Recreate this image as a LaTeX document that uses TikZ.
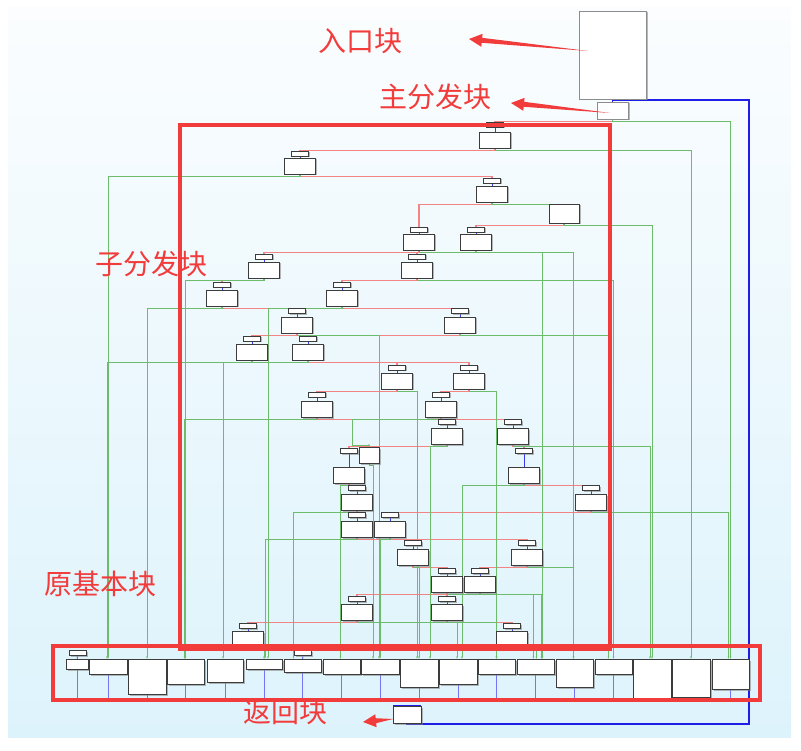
\documentclass[tikz,border=0pt]{standalone}
\usepackage{fontspec}
\newfontfamily\cjk{Noto Sans CJK SC}
\usepackage{tikz}
\usetikzlibrary{arrows.meta,calc,shadows,backgrounds}
\definecolor{annot}{HTML}{F23B3B}
\definecolor{falseedge}{HTML}{F28484}
\definecolor{trueedge}{HTML}{6CBC6C}
\definecolor{flow}{HTML}{3A3AF2}
\definecolor{loopblue}{HTML}{1E1EE6}
\definecolor{panetop}{HTML}{FBFDFE}
\definecolor{panebottom}{HTML}{DDF3FC}
\definecolor{boxline}{HTML}{3C3C3C}

\newcommand\taper[2]{%
  \coordinate (base) at ($(#2)!13pt!(#1)$);
  \fill[annot] (#1) -- ($(base)!2.5pt!90:(#2)$) -- ($(base)!6.5pt!90:(#2)$) -- (#2)
    -- ($(base)!6.5pt!-90:(#2)$) -- ($(base)!2.5pt!-90:(#2)$) -- cycle;}

\begin{document}
\begin{tikzpicture}[x=1pt,y=-1pt,
  blk/.style={draw=boxline,fill=white,line width=0.8pt,inner sep=0pt,outer sep=0pt,
    drop shadow={shadow xshift=1.5pt,shadow yshift=-1.5pt,fill=black!50,opacity=.55}},
  hdr/.style={blk,minimum width=17pt,minimum height=5pt},
  disp/.style={blk,minimum width=31pt,minimum height=16pt},
  redge/.style={draw=falseedge,line width=1.1pt},
  gedge/.style={draw=trueedge,line width=1pt,-{Latex[length=2.5pt,width=2pt]}},
  bedge/.style={draw=flow!70,line width=0.7pt},
  loopedge/.style={draw=loopblue,line width=1.1pt},
  markbox/.style={draw=annot,line width=4.5pt},
  marklabel/.style={text=annot,font=\cjk\fontsize{28}{30}\selectfont,inner sep=0pt}
]
\useasboundingbox (0,0) rectangle (801,751);

\node[blk,minimum width=67pt,minimum height=88pt,draw=black!45] (entry) at (612.5,55) {};
\node[blk,minimum width=31pt,minimum height=17pt,draw=black!45] (main) at (612.5,110.5) {};
\node[blk,minimum width=30pt,minimum height=19pt] (side) at (564,213.5) {};
\node[blk,minimum width=20pt,minimum height=16pt] (split) at (369,455) {};
\node[blk,minimum width=28pt,minimum height=17pt] (ret) at (407,714.5) {};

\foreach \n/\x/\hy/\y in {a1/495/124.5/132, a2/300/153.5/158, a3/492/180.5/186,
    a4/419/229.5/234, a5/476/229.5/234, a6/264/256.5/262, a7/417/256.5/262,
    a8/222/284.5/290, a9/342/284.5/290, a10/297/311/317, a11/460/311/317,
    a12/252/338.5/344, a13/308/338.5/344, a14/397/367.5/373, a15/469/367.5/373,
    a16/317/394.5/401, a17/441/394.5/401, a18/447/422/428, a19/513/422/428,
    a20/349/450.5/467, a21/524/450.5/467, a22/357/488/494, a23/591/488/494,
    a24/357/514.5/521, a25/390/514.5/521, a26/413/543/549, a27/527/543/549,
    a28/447/570.5/576, a29/480/570.5/576, a30/357/598.5/604, a31/447/598.5/604,
    a32/248/625.5/631, a33/512/625.5/631}
{
  \node[disp] (\n) at (\x,\y+8) {};
  \node[hdr] (h\n) at (\x,\hy) {};
}

\foreach \n/\lx/\rx/\by in {b1/66/88/669, b2/89/127/674, b3/128/166/694, b4/167/204/684,
    b5/207/243/682, b6/246/282/669, b7/284/321/672, b8/323/360/674, b9/361/399/674,
    b10/400/438/687, b11/439/477/684, b12/478/515/674, b13/517/554/674, b14/556/593/687,
    b15/595/632/674, b16/633/671/699, b17/672/710/697, b18/712/749/689}
  \node[blk,minimum width={\rx pt-\lx pt},minimum height={\by pt-659pt}] (\n)
    at ({(\lx+\rx)/2},{(659+\by)/2}) {};
\node[hdr] (hb1) at (77.5,653) {};
\node[hdr] (hb7) at (303,653) {};

\coordinate (rowfoot) at (0,701);
\coordinate (loopcorner) at (749,724);
\coordinate (splitin) at (352,445);

\begin{scope}[on background layer]
  \shade[top color=panetop,bottom color=panebottom] (8,8) rectangle (791,737);
  \foreach \s/\t in {main/a1, a1/a2, a2/a3, a3/a4, side/a5, a4/a6, a5/a7, a6/a8, a7/a9,
      a8/a10, a9/a11, a10/a12, a11/a13, a12/a14, a13/a15, a14/a16, a15/a17, a16/a18,
      a17/a19, a18/a20, a19/a21, a20/a22, a21/a23, a22/a24, a23/a25, a24/a26, a25/a27,
      a26/a28, a27/a29, a28/a30, a29/a31, a30/a32, a31/a33}
    \draw[redge] (\s.south) -- ++(0,2.5) -| (h\t.north);
  \foreach \s/\t/\d in {main/b18/0, a1/b17/0, a2/b2/0, side/b16/0, a4/b13/7, a5/b14/-1,
      a6/b4/0, a7/b15/0, a8/b3/0, a9/b6/4, a10/b9/-1, a11/b15/-5, a12/b2/-1, a13/b5/-2,
      a14/b10/-2, a15/b12/0, a16/b4/-1, a18/b10/11, a19/b16/-2, a20/b8/-1, split/b9/-7,
      a21/b11/4, a22/b7/-9, a23/b18/-2, a24/b6/1, a25/b9/0, a26/b10/0, a27/b14/-1,
      a28/b13/-2, a29/b13/6, a30/b11/-1, a31/b12/0, a32/b6/0, a33/b13/1}
    \draw[gedge] (\s.south) -- ++(0,2.5) -| ([xshift=\d pt]\t.north);
  \draw[gedge] (a3.south) -- ++(0,2.5) -| (side.north);
  \draw[gedge] (a17.south) -- ++(0,2) -| (splitin) -| (split.north);
  \foreach \n in {a1,a2,a3,a4,a5,a6,a7,a8,a9,a10,a11,a12,a13,a14,a15,a16,a17,a18,a19,a20,
      a21,a22,a23,a24,a25,a26,a27,a28,a29,a30,a31,a32,a33}
    \draw[bedge,draw=flow] (h\n) -- (\n);
  \foreach \n in {b1,b2,b3,b4,b5,b6,b7,b8,b9,b10,b11,b12,b13,b14,b15,b16,b17,b18}
    \draw[bedge] (\n.south) -- (\n.south |- rowfoot);
  \draw[bedge,draw=flow] (hb1) -- (b1);
  \draw[bedge,draw=flow] (hb7) -- (b7);
  \draw[loopedge] (entry) -- (main);
  \draw[loopedge] (entry.south) -- ++(0,1) -| (loopcorner) -| (ret.south);
  \draw[loopedge,line width=0.8pt] ([yshift=1pt]ret.north west) -- ([yshift=1pt]ret.north east);
\end{scope}

\draw[markbox] (180,125) rectangle (610,649);
\draw[markbox] (53,646) rectangle (760,700);

\node[marklabel] (entrytag) at (360,41) {入口块};
\node[marklabel] (maintag) at (435,97) {主分发块};
\node[marklabel] (subtag) at (151,264) {子分发块};
\node[marklabel] (basetag) at (101,584) {原基本块};
\node[marklabel] (rettag) at (285,712) {返回块};

\coordinate (entryfrom) at (588,51);
\coordinate (entryto) at (469,39);
\coordinate (mainfrom) at (610,113);
\coordinate (mainto) at (511,103);
\coordinate (retfrom) at (393,719);
\coordinate (retto) at (363,722);
\taper{entryfrom}{entryto}
\taper{mainfrom}{mainto}
\taper{retfrom}{retto}
\end{tikzpicture}
\end{document}
